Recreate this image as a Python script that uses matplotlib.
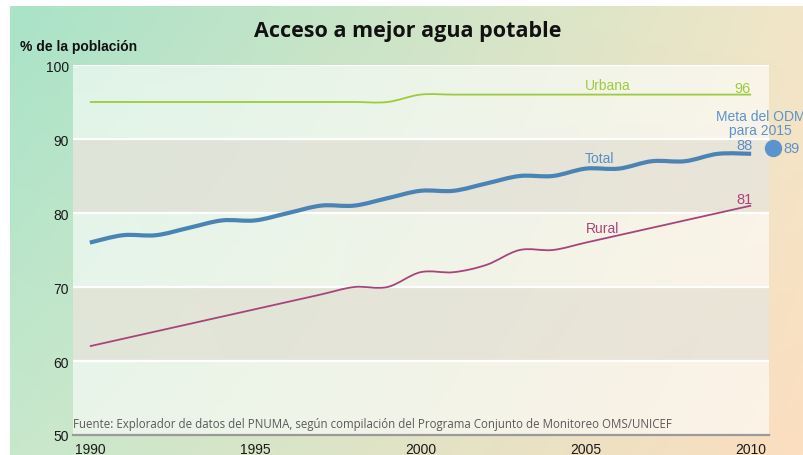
import numpy as np
import matplotlib
matplotlib.use("Agg")
import matplotlib.pyplot as plt
from matplotlib.path import Path
from matplotlib.patches import PathPatch

years = list(range(1990, 2011))
urbana = [95, 95, 95, 95, 95, 95, 95, 95, 95, 95, 96, 96, 96, 96, 96, 96, 96, 96, 96, 96, 96]
total = [76, 77, 77, 78, 79, 79, 80, 81, 81, 82, 83, 83, 84, 85, 85, 86, 86, 87, 87, 88, 88]
rural = [62, 63, 64, 65, 66, 67, 68, 69, 70, 70, 72, 72, 73, 75, 75, 76, 77, 78, 79, 80, 81]
meta_2015 = 89
yticks = [50, 60, 70, 80, 90, 100]
xticks = [1990, 1995, 2000, 2005, 2010]

plt.rcParams['font.family'] = ['Liberation Sans', 'DejaVu Sans']


def smooth_path(xs, ys):
    # catmull-rom curve through the points, as cubic bezier segments
    p = np.column_stack([xs, ys]).astype(float)
    ext = np.vstack([p[0], p, p[-1]])
    verts = [p[0]]
    codes = [Path.MOVETO]
    for i in range(len(p) - 1):
        a, b, c, d = ext[i], ext[i + 1], ext[i + 2], ext[i + 3]
        verts += [b + (c - a) / 6, c - (d - b) / 6, c]
        codes += [Path.CURVE4] * 3
    return Path(verts, codes)


fig = plt.figure(figsize=(8.04, 4.56), dpi=100)

# gradient background
bg = fig.add_axes([10 / 804, 0, 794 / 804, 449 / 456])
bg.axis('off')
tl = np.array([169, 227, 200]) / 255
tr = np.array([242, 230, 200]) / 255
bl = np.array([200, 232, 204]) / 255
br = np.array([252, 222, 192]) / 255
u = np.linspace(0, 1, 200)[None, :, None]
v = np.linspace(0, 1, 120)[:, None, None]
img = (1 - v) * ((1 - u) * tl + u * tr) + v * ((1 - u) * bl + u * br)
bg.imshow(img, extent=[0, 1, 0, 1], aspect='auto', origin='upper')
bg.set_xlim(0, 1)
bg.set_ylim(0, 1)

ax = fig.add_axes([73 / 804, 20 / 456, 696 / 804, 370 / 456])
ax.set_facecolor('none')
ax.set_xlim(1989.49, 2010.54)
ax.set_ylim(50, 100)

for i, lo in enumerate(range(50, 100, 10)):
    if i % 2 == 0:
        ax.axhspan(lo, lo + 10, color='white', alpha=0.6, lw=0, zorder=0)
    else:
        ax.axhspan(lo, lo + 10, color='#e8e5dd', alpha=0.8, lw=0, zorder=0)
for yv in yticks[1:]:
    ax.axhline(yv, color='white', lw=1.6, zorder=1)

for s in ['top', 'right', 'left']:
    ax.spines[s].set_visible(False)
ax.spines['bottom'].set_color('#9a9a9a')
ax.spines['bottom'].set_linewidth(1.6)

ax.set_yticks(yticks)
ax.set_xticks(xticks)
ax.tick_params(length=0, labelsize=10, colors='#1a1a1a', pad=3)
ax.tick_params(axis='x', pad=5)

ax.add_patch(PathPatch(smooth_path(years, urbana), fill=False, color='#9ccc3e', lw=1.3, zorder=3))
ax.add_patch(PathPatch(smooth_path(years, total), fill=False, color='#4a84b6', lw=3.0, zorder=3, capstyle='butt'))
ax.add_patch(PathPatch(smooth_path(years, rural), fill=False, color='#a8447c', lw=1.3, zorder=3))

ax.text(2005.66, 97.3, 'Urbana', color='#9ccc3e', fontsize=10, ha='center', va='center')
ax.text(2009.73, 96.9, str(urbana[-1]), color='#9ccc3e', fontsize=10.5, ha='center', va='center')
ax.text(2005.4, 87.4, 'Total', color='#5a8fc2', fontsize=10, ha='center', va='center')
ax.text(2009.8, 89.2, str(total[-1]), color='#5a8fc2', fontsize=10.5, ha='center', va='center')
ax.text(2005.5, 78.0, 'Rural', color='#a8447c', fontsize=10, ha='center', va='center')
ax.text(2009.8, 81.9, str(rural[-1]), color='#a8447c', fontsize=10.5, ha='center', va='center')

ax.plot([2010.66], [88.8], 'o', color='#5b93cc', ms=11.5, clip_on=False, zorder=4)
ax.text(2010.98, 88.8, str(meta_2015), color='#5b93cc', fontsize=10.5, ha='left', va='center', clip_on=False)
ax.text(2010.28, 92.2, 'Meta del ODM\npara 2015', color='#5b93cc', fontsize=10, ha='center', va='center',
        linespacing=1.0, clip_on=False)

ax.text(1989.49, 50.7, 'Fuente: Explorador de datos del PNUMA, según compilación del Programa Conjunto de Monitoreo OMS/UNICEF',
        color='#5a5a5a', fontsize=8.3, ha='left', va='bottom', family=['Open Sans', 'DejaVu Sans'])

fig.text(408 / 804, 1 - 32 / 456, 'Acceso a mejor agua potable', fontsize=15.5, fontweight='bold',
         ha='center', va='center', color='#111111', family=['Open Sans', 'DejaVu Sans'])
fig.text(20 / 804, 1 - 47 / 456, '% de la población', fontsize=10, fontweight='bold', ha='left', va='center',
         color='#111111')

fig.savefig('out.png', dpi=100)
